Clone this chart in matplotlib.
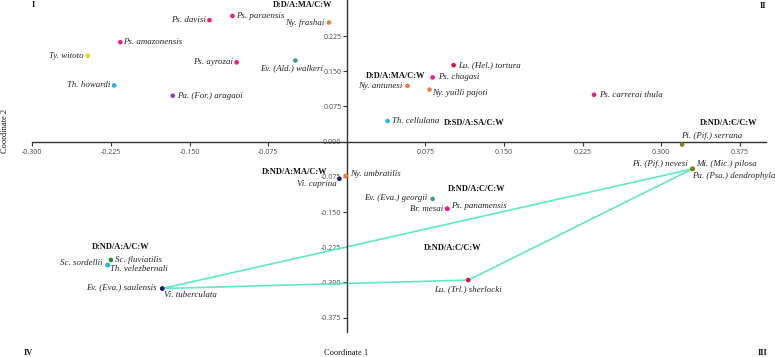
import matplotlib
matplotlib.use("Agg")
import matplotlib.pyplot as plt

# --- data -------------------------------------------------------------
species = [
    "Ps. davisi", "Ps. paraensis", "Ny. frashai", "Ps. amazonensis",
    "Ty. witoto", "Ps. ayrozai", "Ev. (Ald.) walkeri", "Th. howardi",
    "Pa. (For.) aragaoi", "Lu. (Hel.) tortura", "Ps. chagasi",
    "Ny. antunesi", "Ny. yuilli pajoti", "Th. cellulana",
    "Ps. carrerai thula", "Pi. (Pif.) serrana", "Pi. (Pif.) nevesi",
    "Mi. (Mic.) pilosa", "Pa. (Psa.) dendrophyla", "Ny. umbratilis",
    "Vi. caprina", "Ev. (Eva.) georgii", "Br. mesai", "Ps. panamensis",
    "Lu. (Trl.) sherlocki", "Sc. fluviatilis", "Sc. sordellii",
    "Th. velezbernali", "Ev. (Eva.) saulensis", "Vi. tuberculata",
]
coord1 = [
    -0.131, -0.109, -0.017, -0.216,
    -0.247, -0.105, -0.049, -0.222,
    -0.166, 0.102, 0.082,
    0.058, 0.079, 0.039,
    0.236, 0.320, 0.330,
    0.330, 0.330, -0.001,
    -0.007, 0.082, 0.096, 0.096,
    0.116, -0.225, -0.228,
    -0.228, -0.176, -0.176,
]
coord2 = [
    0.259, 0.268, 0.254, 0.212,
    0.183, 0.169, 0.173, 0.120,
    0.098, 0.163, 0.137,
    0.119, 0.111, 0.044,
    0.100, -0.006, -0.058,
    -0.058, -0.058, -0.073,
    -0.079, -0.122, -0.143, -0.143,
    -0.295, -0.252, -0.263,
    -0.263, -0.313, -0.313,
]
genus = [
    "Ps", "Ps", "Ny", "Ps",
    "Ty", "Ps", "Ev", "Th",
    "Pa", "Lu", "Ps",
    "Ny", "Ny", "Th",
    "Ps", "Pi", "Pi",
    "Pi", "Pi", "Ny",
    "Vi", "Ev", "Ps", "Ps",
    "Lu", "Sc", "Sc",
    "Th", "Ev", "Vi",
]
hull_species = ["Ev. (Eva.) saulensis", "Lu. (Trl.) sherlocki", "Mi. (Mic.) pilosa"]

group_text = [
    "D:D/A:MA/C:W", "D:D/A:MA/C:W", "D:SD/A:SA/C:W", "D:ND/A:C/C:W",
    "D:ND/A:MA/C:W", "D:ND/A:C/C:W", "D:ND/A:C/C:W", "D:ND/A:A/C:W",
]

x_ticks = [-0.300, -0.225, -0.150, -0.075, 0.075, 0.150, 0.225, 0.300, 0.375]
y_ticks = [-0.375, -0.300, -0.225, -0.150, -0.075, 0.000, 0.075, 0.150, 0.225]

# --- style / layout ---------------------------------------------------
colors = {
    "Ps": "#f5178b", "Ny": "#ef7d3c", "Ty": "#f2d21a", "Ev": "#3d9a9a",
    "Th": "#22b5ee", "Pa": "#8e3ad6", "Lu": "#d9123a", "Pi": "#857a10",
    "Vi": "#2b1670", "Sc": "#238b2c",
}
# label offset in pixels (dx, dy, ha)
offsets = {
    "Ps. davisi": (-4, 0, "right"),
    "Ps. paraensis": (4, 0, "left"),
    "Ny. frashai": (-4, 0, "right"),
    "Ps. amazonensis": (3, 0, "left"),
    "Ty. witoto": (-4, 0, "right"),
    "Ps. ayrozai": (-4, 0, "right"),
    "Ev. (Ald.) walkeri": (-4, -8, "center"),
    "Th. howardi": (-4, 0, "right"),
    "Pa. (For.) aragaoi": (4, 0, "left"),
    "Lu. (Hel.) tortura": (4, 0, "left"),
    "Ps. chagasi": (5, 0, "left"),
    "Ny. antunesi": (-5, 0, "right"),
    "Ny. yuilli pajoti": (3, -3, "left"),
    "Th. cellulana": (4, 0, "left"),
    "Ps. carrerai thula": (5, 0, "left"),
    "Pi. (Pif.) serrana": (-1, 8, "left"),
    "Pi. (Pif.) nevesi": (-5, 5, "right"),
    "Mi. (Mic.) pilosa": (4, 5, "left"),
    "Pa. (Psa.) dendrophyla": (-1, -7, "left"),
    "Ny. umbratilis": (4, 2, "left"),
    "Vi. caprina": (-3, -5, "right"),
    "Ev. (Eva.) georgii": (-5, 1, "right"),
    "Br. mesai": (-4, 0, "right"),
    "Ps. panamensis": (4, 3, "left"),
    "Lu. (Trl.) sherlocki": (0, -9, "center"),
    "Sc. fluviatilis": (4, 0, "left"),
    "Sc. sordellii": (-5, 2, "right"),
    "Th. velezbernali": (2, -4, "left"),
    "Ev. (Eva.) saulensis": (-6, 1, "right"),
    "Vi. tuberculata": (2, -6, "left"),
}
group_pos = [
    (-0.042, 0.291), (0.047, 0.140), (0.122, 0.040), (0.364, 0.040),
    (-0.050, -0.065), (0.124, -0.101), (0.101, -0.227), (-0.216, -0.224),
]

serif = "Liberation Serif"
axis_col = "#333333"

fig = plt.figure(figsize=(7.75, 3.57), dpi=100)
ax = fig.add_axes([0.0417, 0.0709, 0.9466, 0.9291])
ax.set_xlim(-0.300, 0.400)
ax.set_ylim(-0.405, 0.302)

for side in ("top", "right"):
    ax.spines[side].set_visible(False)
ax.spines["left"].set_position(("data", 0))
ax.spines["bottom"].set_position(("data", 0))
for side in ("left", "bottom"):
    ax.spines[side].set_color(axis_col)
    ax.spines[side].set_linewidth(1.0)

ax.set_xticks(x_ticks)
ax.set_xticklabels([f"{v:.3f}" for v in x_ticks])
ax.set_yticks(y_ticks)
ax.set_yticklabels([f"{v:.3f}" for v in y_ticks])
ax.tick_params(axis="x", direction="out", length=3, width=0.8, color=axis_col,
               pad=2.5, labelsize=5, labelcolor="#444444")
ax.tick_params(axis="y", direction="out", length=3, width=0.8, color=axis_col,
               pad=0.8, labelsize=5, labelcolor="#444444")
for lab in ax.get_xticklabels() + ax.get_yticklabels():
    lab.set_fontfamily("Open Sans")

# convex hull line
idx = [species.index(s) for s in hull_species]
hx = [coord1[i] for i in idx] + [coord1[idx[0]]]
hy = [coord2[i] for i in idx] + [coord2[idx[0]]]
ax.plot(hx, hy, color="#5fe8c6", lw=1.2, zorder=2)

# points and names
ax.scatter(coord1, coord2, c=[colors[g] for g in genus], s=11,
           linewidths=0, zorder=3)
for name, x, y in zip(species, coord1, coord2):
    dx, dy, ha = offsets[name]
    ax.annotate(name, (x, y), xytext=(dx, dy), textcoords="offset pixels",
                ha=ha, va="center", fontsize=6.4, style="italic",
                family=serif, color="#222222", zorder=4)

for txt, (gx, gy) in zip(group_text, group_pos):
    ax.text(gx, gy, txt, ha="center", va="center", fontsize=6,
            weight="bold", family=serif, color="#111111")

# quadrant numbers and axis titles
qkw = dict(fontsize=6, weight="bold", family=serif, color="#111111")
fig.text(33 / 775, 1 - 5 / 357, "I", ha="center", va="center", **qkw)
fig.text(763 / 775, 1 - 6 / 357, "II", ha="center", va="center", **qkw)
fig.text(763 / 775, 1 - 353 / 357, "III", ha="center", va="center", **qkw)
fig.text(28 / 775, 1 - 353 / 357, "IV", ha="center", va="center", **qkw)
fig.text(346 / 775, 1 - 353 / 357, "Coordinate 1", ha="center", va="center",
         fontsize=6, family=serif, color="#111111")
fig.text(5 / 775, 1 - 131 / 357, "Coordinate 2", ha="center", va="center",
         rotation=90, fontsize=6, family=serif, color="#111111")

fig.savefig("out.png", dpi=100)
